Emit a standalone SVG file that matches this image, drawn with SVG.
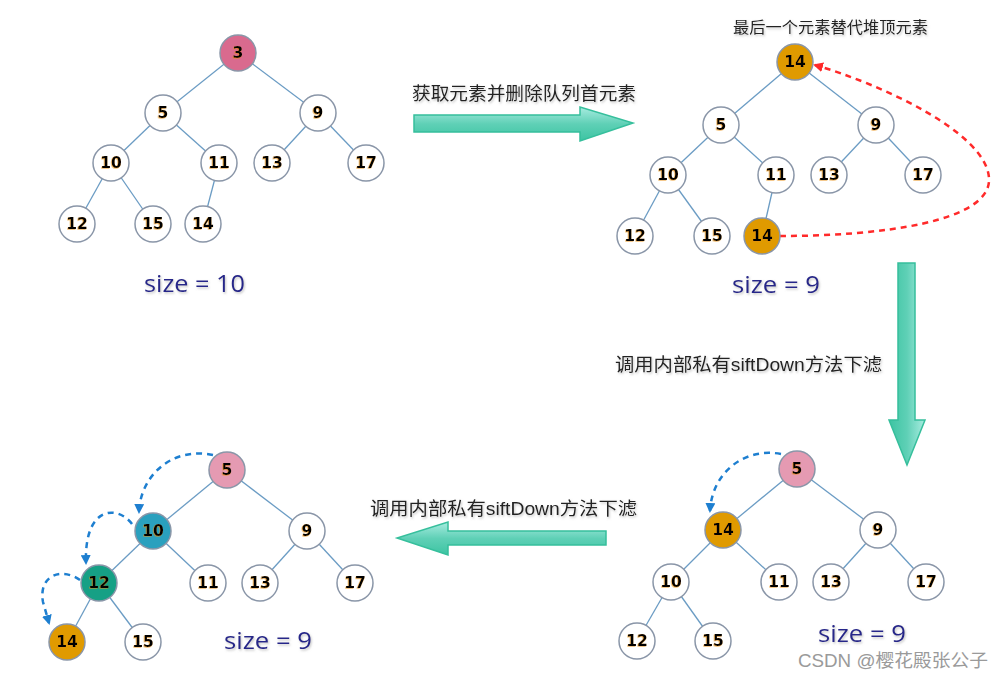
<svg xmlns="http://www.w3.org/2000/svg" width="1004" height="677" viewBox="0 0 1004 677">
<style>
.e{stroke:#6b9cc4;stroke-width:1.3;fill:none}
.n{fill:#fff;stroke:#8a96a8;stroke-width:1.5}
.t{font-family:"DejaVu Sans",sans-serif;font-weight:bold;font-size:15.5px;fill:#000;text-anchor:middle;filter:url(#os)}
.sz{font-family:"Open Sans","Liberation Sans",sans-serif;font-size:24px;fill:#28288a;filter:url(#gs)}
.lb{font-family:"Liberation Sans","Noto Sans CJK SC",sans-serif;font-size:18px;fill:#222;filter:url(#gs)}
.ar{fill:url(#tg);stroke:#36bf9c;stroke-width:1.5}
.bd{fill:none;stroke:#1e7fd0;stroke-width:2.5;stroke-dasharray:6 5}
.rd{fill:none;stroke:#ff2a2a;stroke-width:2.5;stroke-dasharray:6 5}
</style>
<defs>
<filter id="os" x="-20%" y="-20%" width="140%" height="140%"><feDropShadow dx="-0.7" dy="0.7" stdDeviation="0.3" flood-color="#e8900a" flood-opacity="0.7"/></filter>
<filter id="gs" x="-10%" y="-20%" width="120%" height="150%"><feDropShadow dx="1" dy="1.5" stdDeviation="1" flood-color="#888" flood-opacity="0.5"/></filter>
<linearGradient id="tg" x1="0" y1="0" x2="0" y2="1"><stop offset="0" stop-color="#a8ece0"/><stop offset="0.5" stop-color="#5fd0b6"/><stop offset="1" stop-color="#3cc4a2"/></linearGradient>
<linearGradient id="tgv" x1="0" y1="0" x2="1" y2="0"><stop offset="0" stop-color="#3cc4a2"/><stop offset="0.5" stop-color="#5fd0b6"/><stop offset="1" stop-color="#a8ece0"/></linearGradient>
<marker id="mb" viewBox="0 0 10 10" refX="8" refY="5" markerWidth="4" markerHeight="4" orient="auto"><path d="M0,0 L10,5 L0,10 z" fill="#1e7fd0"/></marker>
<marker id="mr" viewBox="0 0 10 10" refX="8" refY="5" markerWidth="4" markerHeight="4" orient="auto"><path d="M0,0 L10,5 L0,10 z" fill="#ff2a2a"/></marker>
</defs>

<g id="connectors">
<line class="e" x1="238" y1="53" x2="163" y2="113"/><line class="e" x1="238" y1="53" x2="318" y2="113"/>
<line class="e" x1="163" y1="113" x2="111" y2="163"/><line class="e" x1="163" y1="113" x2="219" y2="163"/>
<line class="e" x1="318" y1="113" x2="272" y2="163"/><line class="e" x1="318" y1="113" x2="366" y2="163"/>
<line class="e" x1="111" y1="163" x2="77" y2="224"/><line class="e" x1="111" y1="163" x2="153" y2="224"/>
<line class="e" x1="219" y1="163" x2="203" y2="224"/>
<line class="e" x1="795" y1="62" x2="721" y2="125"/><line class="e" x1="795" y1="62" x2="876" y2="125"/>
<line class="e" x1="721" y1="125" x2="668" y2="175"/><line class="e" x1="721" y1="125" x2="776" y2="175"/>
<line class="e" x1="876" y1="125" x2="829" y2="175"/><line class="e" x1="876" y1="125" x2="923" y2="175"/>
<line class="e" x1="668" y1="175" x2="635" y2="236"/><line class="e" x1="668" y1="175" x2="712" y2="236"/>
<line class="e" x1="776" y1="175" x2="762" y2="236"/>
<line class="e" x1="797" y1="469" x2="723" y2="530"/><line class="e" x1="797" y1="469" x2="878" y2="530"/>
<line class="e" x1="723" y1="530" x2="671" y2="582"/><line class="e" x1="723" y1="530" x2="779" y2="582"/>
<line class="e" x1="878" y1="530" x2="831" y2="582"/><line class="e" x1="878" y1="530" x2="926" y2="582"/>
<line class="e" x1="671" y1="582" x2="637" y2="641"/><line class="e" x1="671" y1="582" x2="713" y2="641"/>
<line class="e" x1="227" y1="470" x2="153" y2="531"/><line class="e" x1="227" y1="470" x2="307" y2="531"/>
<line class="e" x1="153" y1="531" x2="99" y2="583"/><line class="e" x1="153" y1="531" x2="208" y2="583"/>
<line class="e" x1="307" y1="531" x2="260" y2="583"/><line class="e" x1="307" y1="531" x2="355" y2="583"/>
<line class="e" x1="99" y1="583" x2="67" y2="642"/><line class="e" x1="99" y1="583" x2="143" y2="642"/>
<path class="rd" d="M780,236 C880,236 992,222 989,178 C986,132 880,84 815,65" marker-end="url(#mr)"/>
<path class="bd" d="M781,454 C745,447 712,472 710,511" marker-end="url(#mb)"/>
<path class="bd" d="M213,455 C170,446 140,478 139,512" marker-end="url(#mb)"/>
<path class="bd" d="M132,524 C118,505 84,505 86,563" marker-end="url(#mb)"/>
<path class="bd" d="M80,580 C62,567 38,575 43,602 L49,623" marker-end="url(#mb)"/>
</g>

<g id="arrows">
<path class="ar" d="M414,115 L580,115 L580,107 L633,123 L580,141 L580,132 L414,132 Z"/>
<path class="ar" style="fill:url(#tgv)" d="M898,263 L915,263 L915,420 L925,420 L907,465 L889,420 L898,420 Z"/>
<path class="ar" d="M606,531 L448,531 L448,522 L397,538 L448,555 L448,545 L606,545 Z"/>
</g>

<g id="labels">
<text class="lb" x="412" y="100" textLength="224" lengthAdjust="spacingAndGlyphs">获取元素并删除队列首元素</text>
<text class="lb" x="733" y="33" font-size="15.5" style="font-size:15.5px" textLength="195" lengthAdjust="spacingAndGlyphs">最后一个元素替代堆顶元素</text>
<text class="lb" x="615" y="371" textLength="267" lengthAdjust="spacingAndGlyphs">调用内部私有siftDown方法下滤</text>
<text class="lb" x="370" y="515" textLength="267" lengthAdjust="spacingAndGlyphs">调用内部私有siftDown方法下滤</text>
<text class="sz" x="144" y="292" textLength="101" lengthAdjust="spacingAndGlyphs">size = 10</text>
<text class="sz" x="732" y="293" textLength="88" lengthAdjust="spacingAndGlyphs">size = 9</text>
<text class="sz" x="818" y="642" textLength="88" lengthAdjust="spacingAndGlyphs">size = 9</text>
<text class="sz" x="224" y="649" textLength="88" lengthAdjust="spacingAndGlyphs">size = 9</text>
<text x="798" y="667" font-family="Liberation Sans,Noto Sans CJK SC,sans-serif" font-size="18" fill="#9a9a9a" textLength="190" lengthAdjust="spacingAndGlyphs">CSDN @樱花殿张公子</text>
</g>

<g id="tree1">
<g id="t1n3"><circle class="n" cx="238" cy="53" r="18" style="fill:#d96a8e"/><text class="t" x="238" y="58">3</text></g>
<g id="t1n5"><circle class="n" cx="163" cy="113" r="18"/><text class="t" x="163" y="118">5</text></g>
<g id="t1n9"><circle class="n" cx="318" cy="113" r="18"/><text class="t" x="318" y="118">9</text></g>
<g id="t1n10"><circle class="n" cx="111" cy="163" r="18"/><text class="t" x="111" y="168">10</text></g>
<g id="t1n11"><circle class="n" cx="219" cy="163" r="18"/><text class="t" x="219" y="168">11</text></g>
<g id="t1n13"><circle class="n" cx="272" cy="163" r="18"/><text class="t" x="272" y="168">13</text></g>
<g id="t1n17"><circle class="n" cx="366" cy="163" r="18"/><text class="t" x="366" y="168">17</text></g>
<g id="t1n12"><circle class="n" cx="77" cy="224" r="18"/><text class="t" x="77" y="229">12</text></g>
<g id="t1n15"><circle class="n" cx="153" cy="224" r="18"/><text class="t" x="153" y="229">15</text></g>
<g id="t1n14"><circle class="n" cx="203" cy="224" r="18"/><text class="t" x="203" y="229">14</text></g>
</g>

<g id="tree2">
<g id="t2n14top"><circle class="n" cx="795" cy="62" r="18" style="fill:#e09a00"/><text class="t" x="795" y="67">14</text></g>
<g id="t2n5"><circle class="n" cx="721" cy="125" r="18"/><text class="t" x="721" y="130">5</text></g>
<g id="t2n9"><circle class="n" cx="876" cy="125" r="18"/><text class="t" x="876" y="130">9</text></g>
<g id="t2n10"><circle class="n" cx="668" cy="175" r="18"/><text class="t" x="668" y="180">10</text></g>
<g id="t2n11"><circle class="n" cx="776" cy="175" r="18"/><text class="t" x="776" y="180">11</text></g>
<g id="t2n13"><circle class="n" cx="829" cy="175" r="18"/><text class="t" x="829" y="180">13</text></g>
<g id="t2n17"><circle class="n" cx="923" cy="175" r="18"/><text class="t" x="923" y="180">17</text></g>
<g id="t2n12"><circle class="n" cx="635" cy="236" r="18"/><text class="t" x="635" y="241">12</text></g>
<g id="t2n15"><circle class="n" cx="712" cy="236" r="18"/><text class="t" x="712" y="241">15</text></g>
<g id="t2n14"><circle class="n" cx="762" cy="236" r="18" style="fill:#e09a00"/><text class="t" x="762" y="241">14</text></g>
</g>

<g id="tree3">
<g id="t3n5"><circle class="n" cx="797" cy="469" r="18" style="fill:#e59ab2"/><text class="t" x="797" y="474">5</text></g>
<g id="t3n14"><circle class="n" cx="723" cy="530" r="18" style="fill:#e09a00"/><text class="t" x="723" y="535">14</text></g>
<g id="t3n9"><circle class="n" cx="878" cy="530" r="18"/><text class="t" x="878" y="535">9</text></g>
<g id="t3n10"><circle class="n" cx="671" cy="582" r="18"/><text class="t" x="671" y="587">10</text></g>
<g id="t3n11"><circle class="n" cx="779" cy="582" r="18"/><text class="t" x="779" y="587">11</text></g>
<g id="t3n13"><circle class="n" cx="831" cy="582" r="18"/><text class="t" x="831" y="587">13</text></g>
<g id="t3n17"><circle class="n" cx="926" cy="582" r="18"/><text class="t" x="926" y="587">17</text></g>
<g id="t3n12"><circle class="n" cx="637" cy="641" r="18"/><text class="t" x="637" y="646">12</text></g>
<g id="t3n15"><circle class="n" cx="713" cy="641" r="18"/><text class="t" x="713" y="646">15</text></g>
</g>

<g id="tree4">
<g id="t4n5"><circle class="n" cx="227" cy="470" r="18" style="fill:#e59ab2"/><text class="t" x="227" y="475">5</text></g>
<g id="t4n10"><circle class="n" cx="153" cy="531" r="18" style="fill:#2aa0be"/><text class="t" x="153" y="536">10</text></g>
<g id="t4n9"><circle class="n" cx="307" cy="531" r="18"/><text class="t" x="307" y="536">9</text></g>
<g id="t4n12"><circle class="n" cx="99" cy="583" r="18" style="fill:#16a085"/><text class="t" x="99" y="588">12</text></g>
<g id="t4n11"><circle class="n" cx="208" cy="583" r="18"/><text class="t" x="208" y="588">11</text></g>
<g id="t4n13"><circle class="n" cx="260" cy="583" r="18"/><text class="t" x="260" y="588">13</text></g>
<g id="t4n17"><circle class="n" cx="355" cy="583" r="18"/><text class="t" x="355" y="588">17</text></g>
<g id="t4n14"><circle class="n" cx="67" cy="642" r="18" style="fill:#e09a00"/><text class="t" x="67" y="647">14</text></g>
<g id="t4n15"><circle class="n" cx="143" cy="642" r="18"/><text class="t" x="143" y="647">15</text></g>
</g>
</svg>
